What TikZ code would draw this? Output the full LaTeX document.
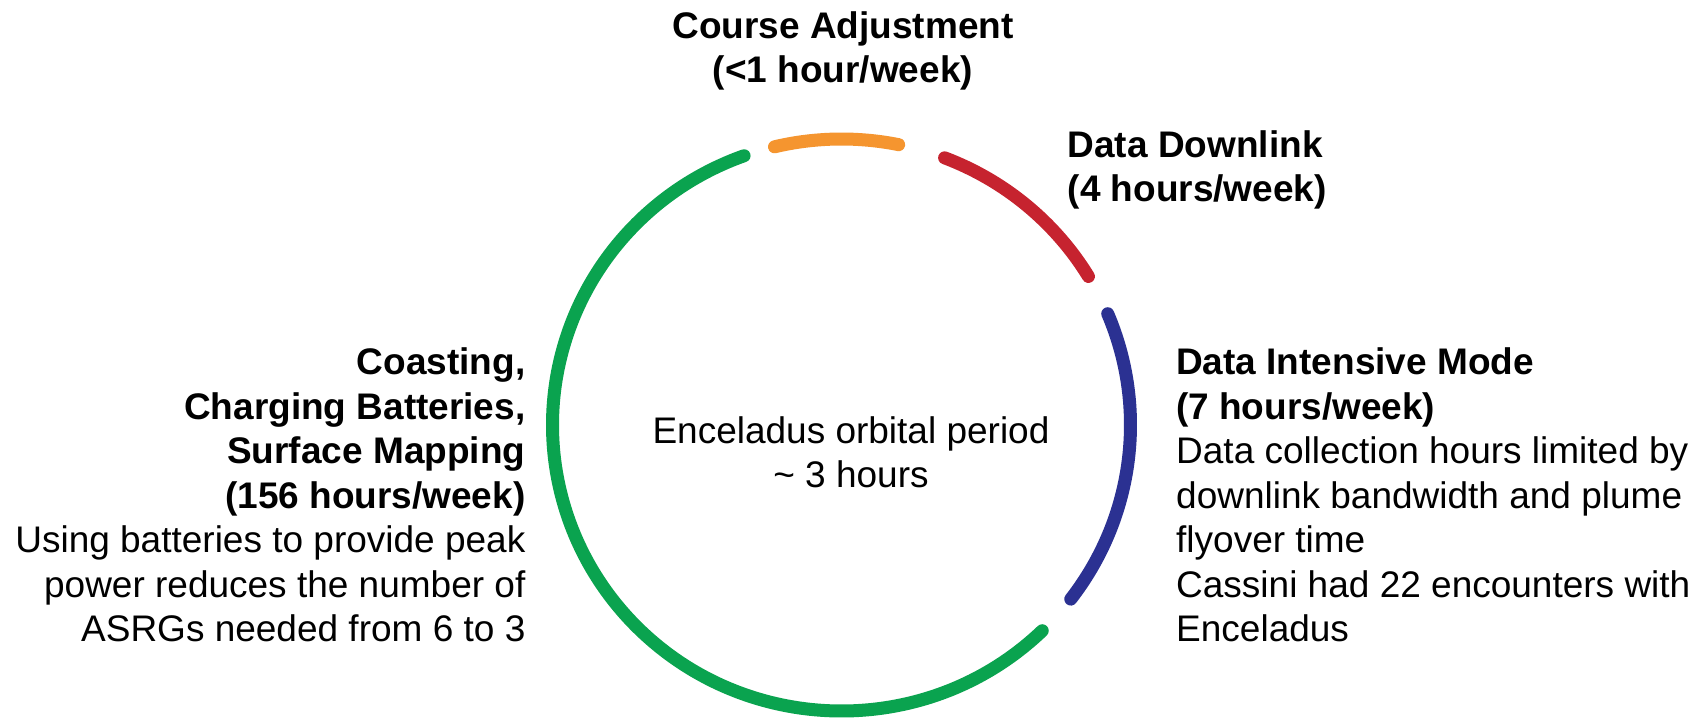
\documentclass[tikz,border=0pt]{standalone}
\usepackage{fontspec}
\setmainfont{Liberation Sans}
\definecolor{arcorange}{HTML}{F5952F}
\definecolor{arcred}{HTML}{C6232F}
\definecolor{arcblue}{HTML}{2B3192}
\definecolor{arcgreen}{HTML}{0AA34F}
\tikzset{
  phase/.style={line width=13pt, line cap=round},
  headtext/.style={inner sep=0pt, font=\fontsize{37}{44.5}\selectfont\bfseries},
  bodytext/.style={inner sep=0pt, font=\fontsize{37}{44.5}\selectfont},
}
\begin{document}
\begin{tikzpicture}[x=1pt,y=1pt]
  \useasboundingbox[fill=white] (0,0) rectangle (1703,723);
  % orbit ring, one arc per mission phase
  \coordinate (C) at (841.5,298);
  \def\RX{289}
  \def\RY{286}
  \draw[phase, arcorange] ([shift={(103.4:\RX pt and \RY pt)}]C)
    arc[start angle=103.4, end angle=78.6, x radius=\RX, y radius=\RY];
  \draw[phase, arcred]    ([shift={(69.1:\RX pt and \RY pt)}]C)
    arc[start angle=69.1, end angle=31.3, x radius=\RX, y radius=\RY];
  \draw[phase, arcblue]   ([shift={(22.9:\RX pt and \RY pt)}]C)
    arc[start angle=22.9, end angle=-37.5, x radius=\RX, y radius=\RY];
  \draw[phase, arcgreen]  ([shift={(-46:\RX pt and \RY pt)}]C)
    arc[start angle=-46, end angle=-250.3, x radius=\RX, y radius=\RY];

  % phase labels
  \node[headtext, anchor=north, align=center] (course) at (843,712)
    {Course Adjustment\\(<1 hour/week)};
  \node[headtext, anchor=north west, align=left] (downlink) at (1067.5,593)
    {Data Downlink\\(4 hours/week)};
  \node[bodytext, anchor=north, align=center] (period) at (851,307)
    {Enceladus orbital period\\\textasciitilde{} 3 hours};
  \node[bodytext, anchor=north west, align=left] (intensive) at (1176,375.5)
    {\textbf{Data Intensive Mode}\\\textbf{(7 hours/week)}\\
     Data collection hours limited by\\downlink bandwidth and plume\\flyover time\\
     Cassini had 22 encounters with\\Enceladus};
  \node[bodytext, anchor=north east, align=right] (coasting) at (525.6,375.5)
    {\textbf{Coasting,}\\\textbf{Charging Batteries,}\\\textbf{Surface Mapping}\\\textbf{(156 hours/week)}\\
     Using batteries to provide peak\\power reduces the number of\\ASRGs needed from 6 to 3};
\end{tikzpicture}
\end{document}
